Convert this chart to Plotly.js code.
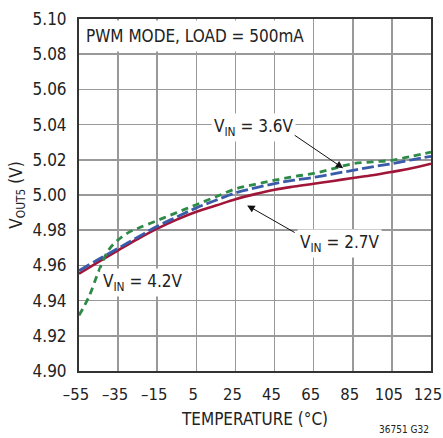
<!DOCTYPE html>
<html><head><meta charset="utf-8">
<script src="https://cdn.plot.ly/plotly-3.0.1.min.js"></script>
<style>html,body{margin:0;padding:0;background:#fff}#c{width:443px;height:438px}</style>
</head><body><div id="c"></div>
<script>
const temps = [-55,-45,-35,-25,-15,-5,5,15,25,35,45,55,65,75,85,95,105,115,125];
const vin27 = [4.9553,4.9620,4.9686,4.9750,4.9809,4.9860,4.9905,4.9940,4.9976,5.0005,5.0030,5.0048,5.0064,5.0080,5.0097,5.0112,5.0131,5.0152,5.0178];
const vin36 = [4.9570,4.9635,4.9697,4.9760,4.9822,4.9875,4.9927,4.9970,5.0012,5.0040,5.0065,5.0084,5.0100,5.0120,5.0140,5.0160,5.0178,5.0200,5.0220];
const temps42 = [-55,-50,-45,-40,-35,-30,-25,-15,-5,5,15,25,35,45,55,65,75,85,95,105,115,125];
const vin42 = [4.9316,4.9420,4.9565,4.9685,4.9745,4.9785,4.9810,4.9855,4.9900,4.9945,4.9990,5.0035,5.0060,5.0084,5.0105,5.0123,5.0150,5.0178,5.0188,5.0197,5.0220,5.0244];
const xTicks = [-55,-35,-15,5,25,45,65,85,105,125];
const xTickText = ['\u201355','\u201335','\u201315','5','25','45','65','85','105','125'];
const yTicks = [4.90,4.92,4.94,4.96,4.98,5.00,5.02,5.04,5.06,5.08,5.10];
const yTickText = ['4.90','4.92','4.94','4.96','4.98','5.00','5.02','5.04','5.06','5.08','5.10'];

const F = '"DejaVu Sans Condensed", "Liberation Sans Narrow", sans-serif';
const C = '#222';
const traces = [
  {x: temps, y: vin27, mode:'lines', line:{color:'#a01538', width:2.6, shape:'spline'}},
  {x: temps, y: vin36, mode:'lines', line:{color:'#3a5aaa', width:2.8, dash:'12px,4px', shape:'spline'}},
  {x: temps42, y: vin42, mode:'lines', line:{color:'#2e8b47', width:2.8, dash:'7px,5px', shape:'spline'}}
];
const layout = {
  width:443, height:438,
  margin:{l:79, r:12, t:19, b:67},
  paper_bgcolor:'#fff', plot_bgcolor:'#fff',
  showlegend:false,
  font:{family:F, size:17, color:C},
  xaxis:{range:[-55,125], tickvals:xTicks, ticktext:xTickText, showgrid:true, gridcolor:'#999', gridwidth:1.5,
    showline:true, linecolor:'#333', linewidth:2, mirror:true, ticks:'outside', ticklen:7, tickcolor:'rgba(0,0,0,0)', zeroline:false,
    ticklabeloverflow:'allow', ticklabelshift:-3,
    tickfont:{family:F, size:16.5, color:C},
    title:{text:'TEMPERATURE (°C)', font:{family:F, size:17, color:C}, standoff:10}},
  yaxis:{range:[4.90,5.10], tickvals:yTicks, ticktext:yTickText, showgrid:true, gridcolor:'#999', gridwidth:1.5,
    showline:true, linecolor:'#333', linewidth:2, mirror:true, ticks:'outside', ticklen:7, tickcolor:'rgba(0,0,0,0)', zeroline:false,
    ticklabeloverflow:'allow',
    tickfont:{family:F, size:17, color:C},
    title:{text:'V<sub>OUT5</sub> (V)', font:{family:F, size:17, color:C}, standoff:6}},
  annotations:[
    {xref:'paper', yref:'paper', x:0.004, y:0.996, xanchor:'left', yanchor:'top', showarrow:false,
     text:'PWM MODE, LOAD = 500mA', bgcolor:'#fff', borderpad:5, font:{family:F, size:17, color:C}},
    {x:34.1, y:5.0385, text:'V<sub>IN</sub> = 3.6V', showarrow:false, bgcolor:'#fff', borderpad:2, font:{family:F, size:17, color:C}},
    {x:80.1, y:5.0152, text:'', showarrow:true, ax:-50, ay:-34, arrowhead:2, arrowsize:1.5, arrowwidth:1, arrowcolor:'#111'},
    {x:78.1, y:4.9726, text:'V<sub>IN</sub> = 2.7V', showarrow:false, bgcolor:'#fff', borderpad:2, font:{family:F, size:17, color:C}},
    {x:31.0, y:4.9941, text:'', showarrow:true, ax:49, ay:28, arrowhead:2, arrowsize:1.5, arrowwidth:1, arrowcolor:'#111'},
    {x:-22.4, y:4.9504, text:'V<sub>IN</sub> = 4.2V', showarrow:false, bgcolor:'#fff', borderpad:2, font:{family:F, size:17, color:C}},
    {xref:'paper', yref:'paper', x:1.0, y:-0.188, xanchor:'right', yanchor:'bottom', showarrow:false,
     text:'36751 G32', font:{family:F, size:10, color:C}}
  ]
};
Plotly.newPlot('c', traces, layout, {staticPlot:true, displayModeBar:false});
</script></body></html>
